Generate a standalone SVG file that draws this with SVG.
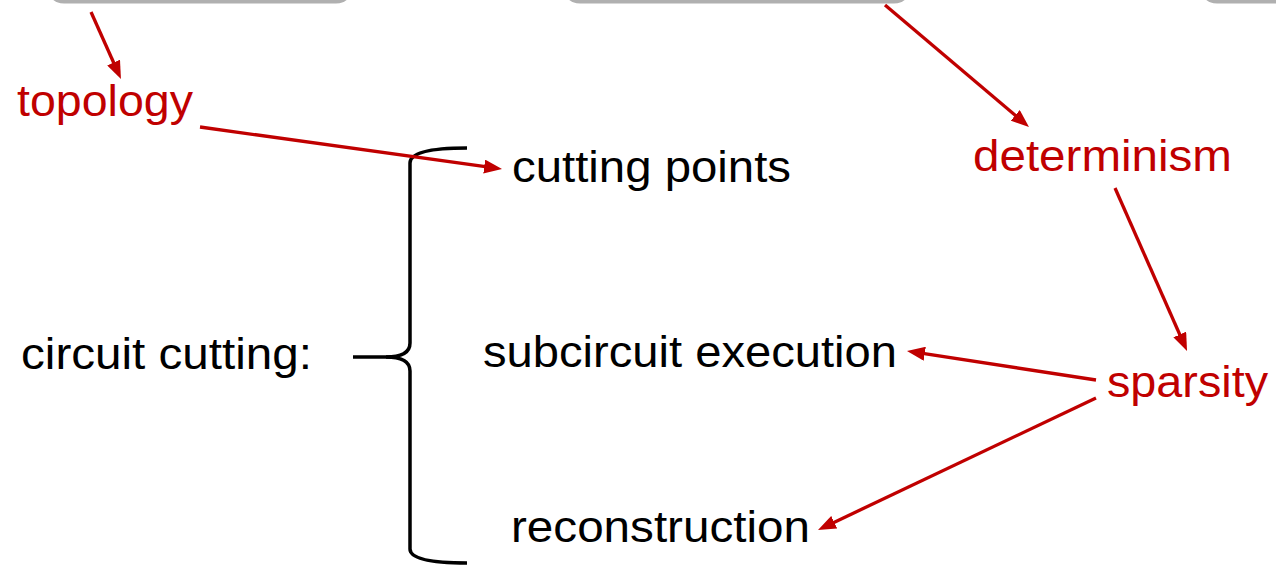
<svg xmlns="http://www.w3.org/2000/svg" width="1276" height="566" viewBox="0 0 1276 566">
  <style>
    .lbl { font-family: "Liberation Sans", Arial, sans-serif; font-size: 44px; }
    .black { fill: #000000; }
    .red { fill: #c00000; }
    .conn { stroke: #c00000; stroke-width: 3.3; fill: none; marker-end: url(#head); }
    .brace { stroke: #000000; stroke-width: 3.5; fill: none; stroke-linecap: butt; }
    .box { fill: #b0b0b0; }
  </style>
  <defs>
    <marker id="head" markerUnits="userSpaceOnUse" markerWidth="18" markerHeight="14" refX="12" refY="7" orient="auto">
      <path d="M0,0 L18,7 L0,14 z" fill="#c00000"/>
    </marker>
  </defs>

  <rect width="1276" height="566" fill="#ffffff"/>

  <!-- boxes running off the top edge -->
  <g id="box-left"><rect class="box" x="46" y="-40" width="308" height="43.5" rx="18"/></g>
  <g id="box-middle"><rect class="box" x="562" y="-40" width="350" height="43.5" rx="18"/></g>
  <g id="box-right"><rect class="box" x="1199" y="-40" width="120" height="43.5" rx="18"/></g>

  <!-- brace grouping the three stages -->
  <g id="brace">
    <path class="brace" d="M467,148 Q410,148 410,163 L410,343 Q410,357 386,357 L353,357"/>
    <path class="brace" d="M386,357 Q410,357 410,371 L410,549 Q410,563 467,563"/>
  </g>

  <g id="circuit-cutting"><text class="lbl black" x="21" y="369" textLength="291" lengthAdjust="spacingAndGlyphs">circuit cutting:</text></g>
  <g id="cutting-points"><text class="lbl black" x="512" y="182" textLength="279" lengthAdjust="spacingAndGlyphs">cutting points</text></g>
  <g id="subcircuit-execution"><text class="lbl black" x="483" y="367" textLength="414" lengthAdjust="spacingAndGlyphs">subcircuit execution</text></g>
  <g id="reconstruction"><text class="lbl black" x="511" y="542" textLength="299" lengthAdjust="spacingAndGlyphs">reconstruction</text></g>

  <g id="topology"><text class="lbl red" x="17" y="116" textLength="176" lengthAdjust="spacingAndGlyphs">topology</text></g>
  <g id="determinism"><text class="lbl red" x="973" y="171" textLength="259" lengthAdjust="spacingAndGlyphs">determinism</text></g>
  <g id="sparsity"><text class="lbl red" x="1107" y="397" textLength="161" lengthAdjust="spacingAndGlyphs">sparsity</text></g>

  <g id="connectors">
    <line class="conn" x1="91" y1="12" x2="118.5" y2="73.5"/>
    <line class="conn" x1="200" y1="127" x2="496.1" y2="168.2"/>
    <line class="conn" x1="885" y1="5" x2="1024.4" y2="123.1"/>
    <line class="conn" x1="1115" y1="188" x2="1184.6" y2="345.5"/>
    <line class="conn" x1="1096" y1="380" x2="912.9" y2="351.9"/>
    <line class="conn" x1="1096" y1="398" x2="823.4" y2="527.4"/>
  </g>
</svg>
